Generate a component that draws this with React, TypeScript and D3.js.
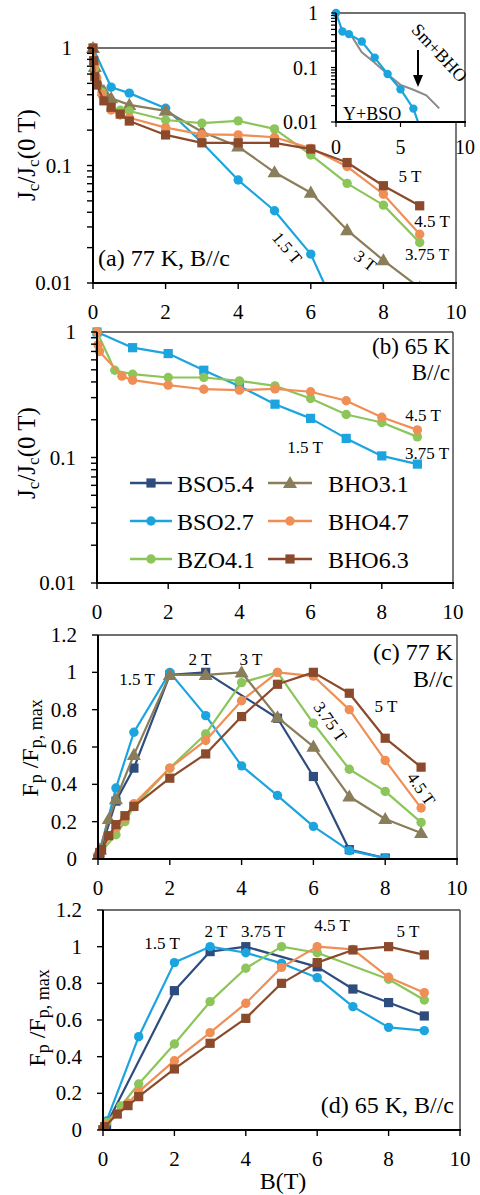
import React from 'react';
import * as d3 from 'd3';

const FONT = '"Liberation Serif", "Times New Roman", Times, serif';
const W = 480;
const H = 1195;

// series styles
const seriesNames = ['BSO5.4', 'BSO2.7', 'BZO4.1', 'BHO3.1', 'BHO4.7', 'BHO6.3'];
const seriesColors = ['#2E4C7E', '#1CA4DE', '#8CC55A', '#8A7D5A', '#EF8F56', '#8A4A2B'];
const seriesShapes = ['square', 'circle', 'circle', 'triangle', 'circle', 'square'];

// ticks
const fieldTicks = [0, 2, 4, 6, 8, 10];
const logTicks = [1, 0.1, 0.01];
const logTickLabels = ['1', '0.1', '0.01'];
const fpTicks = [0, 0.2, 0.4, 0.6, 0.8, 1, 1.2];
const fpTickLabels = ['0', '0.2', '0.4', '0.6', '0.8', '1', '1.2'];
const insetFieldTicks = [0, 5, 10];

// (a) 77 K, Jc/Jc(0 T)
const a_B_bso27 = [0, 0.5, 1, 2, 3, 4, 5, 6, 7];
const a_J_bso27 = [1, 0.464, 0.413, 0.307, 0.157, 0.0752, 0.0412, 0.0176, 0.0037];
const a_B_bho31 = [0, 0.05, 0.3, 0.5, 1, 2, 3, 4, 5, 6, 7, 8, 9];
const a_J_bho31 = [1, 0.69, 0.43, 0.373, 0.328, 0.292, 0.194, 0.145, 0.0875, 0.0587, 0.0282, 0.0156, 0.0091];
const a_B_bzo41 = [0, 0.05, 0.1, 0.25, 0.5, 0.75, 1, 2, 3, 4, 5, 6, 7, 8, 9];
const a_J_bzo41 = [1, 0.68, 0.55, 0.42, 0.3, 0.295, 0.291, 0.244, 0.229, 0.24, 0.205, 0.123, 0.0705, 0.046, 0.0221];
const a_B_bho47 = [0, 0.05, 0.1, 0.25, 0.5, 0.75, 1, 2, 3, 4, 5, 6, 7, 8, 9];
const a_J_bho47 = [1, 0.72, 0.56, 0.4, 0.297, 0.269, 0.255, 0.21, 0.184, 0.182, 0.174, 0.14, 0.098, 0.057, 0.026];
const a_B_bho63 = [0, 0.02, 0.05, 0.1, 0.3, 0.5, 0.75, 1, 2, 3, 4, 5, 6, 7, 8, 9];
const a_J_bho63 = [1, 0.78, 0.57, 0.484, 0.355, 0.313, 0.274, 0.239, 0.182, 0.156, 0.156, 0.156, 0.138, 0.106, 0.0673, 0.0454];

// inset: Y+BSO vs Sm+BHO
const inset_B_ybso = [0, 0.5, 1, 2, 3, 4, 5, 6, 7];
const inset_J_ybso = [1, 0.459, 0.41, 0.3, 0.152, 0.076, 0.04, 0.0176, 0.0037];
const inset_B_smbho = [1.2, 2, 3, 4, 5, 6, 7, 8];
const inset_J_smbho = [0.38, 0.19, 0.122, 0.075, 0.048, 0.039, 0.031, 0.0178];

// (b) 65 K, Jc/Jc(0 T)
const b_B_bso27 = [0, 1, 2, 3, 4, 5, 6, 7, 8, 9];
const b_J_bso27 = [1, 0.75, 0.673, 0.496, 0.37, 0.266, 0.205, 0.142, 0.103, 0.0886];
const b_B_bzo41 = [0, 0.5, 1, 2, 3, 4, 5, 6, 7, 8, 9];
const b_J_bzo41 = [1, 0.496, 0.461, 0.434, 0.434, 0.408, 0.372, 0.295, 0.22, 0.19, 0.146];
const b_B_bho47 = [0, 0.03, 0.07, 0.7, 1, 2, 3, 4, 5, 6, 7, 8, 9];
const b_J_bho47 = [1, 0.79, 0.7, 0.445, 0.413, 0.377, 0.35, 0.344, 0.352, 0.334, 0.283, 0.209, 0.166];

// (c) 77 K, Fp/Fp,max
const c_B_bso54 = [0, 0.05, 0.5, 1, 2, 3, 5, 6, 7, 8];
const c_F_bso54 = [0, 0.03, 0.31, 0.487, 0.986, 1.0, 0.754, 0.442, 0.05, 0.005];
const c_B_bso27 = [0, 0.05, 0.5, 1, 2, 3, 4, 5, 6, 7, 8];
const c_F_bso27 = [0, 0.04, 0.38, 0.679, 1.0, 0.768, 0.499, 0.34, 0.175, 0.045, 0.005];
const c_B_bzo41 = [0, 0.05, 0.5, 0.75, 1, 2, 3, 4, 5, 6, 7, 8, 9];
const c_F_bzo41 = [0, 0.03, 0.13, 0.2, 0.28, 0.487, 0.67, 0.945, 1.0, 0.727, 0.481, 0.362, 0.196];
const c_B_bho47 = [0, 0.05, 0.5, 0.75, 1, 2, 3, 4, 5, 6, 7, 8, 9];
const c_F_bho47 = [0, 0.035, 0.166, 0.22, 0.296, 0.487, 0.635, 0.848, 1.0, 0.98, 0.8, 0.528, 0.273];
const c_B_bho31 = [0, 0.05, 0.3, 0.5, 1, 2, 3, 4, 5, 6, 7, 8, 9];
const c_F_bho31 = [0, 0.05, 0.214, 0.32, 0.558, 0.986, 0.986, 1.0, 0.759, 0.602, 0.335, 0.214, 0.139];
const c_B_bho63 = [0, 0.05, 0.1, 0.3, 0.5, 0.75, 1, 2, 3, 4, 5, 6, 7, 8, 9];
const c_F_bho63 = [0, 0.035, 0.05, 0.125, 0.184, 0.232, 0.282, 0.433, 0.563, 0.763, 0.936, 1.0, 0.888, 0.647, 0.492];

// (d) 65 K, Fp/Fp,max
const d_B_bso54 = [0, 0.1, 2, 3, 4, 6, 7, 8, 9];
const d_F_bso54 = [0, 0.03, 0.76, 0.973, 1.0, 0.89, 0.769, 0.695, 0.622];
const d_B_bso27 = [0, 0.1, 1, 2, 3, 4, 5, 6, 7, 8, 9];
const d_F_bso27 = [0, 0.05, 0.509, 0.913, 1.0, 0.967, 0.909, 0.831, 0.673, 0.56, 0.542];
const d_B_bzo41 = [0, 0.1, 0.5, 1, 2, 3, 4, 5, 6, 8, 9];
const d_F_bzo41 = [0, 0.04, 0.131, 0.251, 0.469, 0.7, 0.882, 1.0, 0.967, 0.822, 0.709];
const d_B_bho47 = [0, 0.05, 0.7, 1, 2, 3, 4, 5, 6, 7, 8, 9];
const d_F_bho47 = [0, 0.027, 0.146, 0.209, 0.378, 0.531, 0.691, 0.887, 1.0, 0.985, 0.833, 0.749];
const d_B_bho63 = [0, 0.05, 0.4, 0.7, 1, 2, 3, 4, 5, 6, 7, 8, 9];
const d_F_bho63 = [0, 0.018, 0.087, 0.133, 0.182, 0.333, 0.473, 0.609, 0.8, 0.913, 0.982, 1.0, 0.955];

type Box = { l: number; r: number; t: number; b: number };
type Line = { name: string; B: number[]; V: number[]; shape?: string };

const boxA: Box = { l: 93, r: 456, t: 48, b: 283 };
const boxB: Box = { l: 97, r: 453, t: 332, b: 583 };
const boxC: Box = { l: 98, r: 457, t: 635, b: 859 };
const boxD: Box = { l: 103, r: 460, t: 910, b: 1130 };
const boxInset: Box = { l: 336, r: 465, t: 13, b: 122 };

const panelA: Line[] = [
  { name: 'BSO2.7', B: a_B_bso27, V: a_J_bso27 },
  { name: 'BHO3.1', B: a_B_bho31, V: a_J_bho31 },
  { name: 'BZO4.1', B: a_B_bzo41, V: a_J_bzo41 },
  { name: 'BHO4.7', B: a_B_bho47, V: a_J_bho47 },
  { name: 'BHO6.3', B: a_B_bho63, V: a_J_bho63 },
];
const panelB: Line[] = [
  { name: 'BSO2.7', B: b_B_bso27, V: b_J_bso27, shape: 'square' },
  { name: 'BZO4.1', B: b_B_bzo41, V: b_J_bzo41 },
  { name: 'BHO4.7', B: b_B_bho47, V: b_J_bho47 },
];
const panelC: Line[] = [
  { name: 'BSO5.4', B: c_B_bso54, V: c_F_bso54 },
  { name: 'BSO2.7', B: c_B_bso27, V: c_F_bso27 },
  { name: 'BZO4.1', B: c_B_bzo41, V: c_F_bzo41 },
  { name: 'BHO4.7', B: c_B_bho47, V: c_F_bho47 },
  { name: 'BHO3.1', B: c_B_bho31, V: c_F_bho31 },
  { name: 'BHO6.3', B: c_B_bho63, V: c_F_bho63 },
];
const panelD: Line[] = [
  { name: 'BSO5.4', B: d_B_bso54, V: d_F_bso54 },
  { name: 'BSO2.7', B: d_B_bso27, V: d_F_bso27 },
  { name: 'BZO4.1', B: d_B_bzo41, V: d_F_bzo41 },
  { name: 'BHO4.7', B: d_B_bho47, V: d_F_bho47 },
  { name: 'BHO6.3', B: d_B_bho63, V: d_F_bho63 },
];

const colorOf = (name: string) => seriesColors[seriesNames.indexOf(name)];
const shapeOf = (name: string) => seriesShapes[seriesNames.indexOf(name)];

function Marker({ shape, cx, cy, color }: { shape: string; cx: number; cy: number; color: string }) {
  if (shape === 'square') return <rect x={cx - 4.6} y={cy - 4.6} width={9.2} height={9.2} fill={color} />;
  if (shape === 'triangle')
    return <path d={d3.symbol(d3.symbolTriangle, 85)() || ''} transform={`translate(${cx},${cy + 1})`} fill={color} />;
  return <circle cx={cx} cy={cy} r={4.7} fill={color} />;
}

function Series({ lines, x, y }: { lines: Line[]; x: any; y: any }) {
  const gen = d3.line<[number, number]>().x((d) => x(d[0])).y((d) => y(d[1]));
  return (
    <g>
      {lines.map((s) => {
        const pts = d3.zip(s.B, s.V) as [number, number][];
        const color = colorOf(s.name);
        const shape = s.shape || shapeOf(s.name);
        return (
          <g key={s.name}>
            <path d={gen(pts) || ''} fill="none" stroke={color} strokeWidth={2.2} strokeLinejoin="round" />
            {pts.map((p, i) => (
              <Marker key={i} shape={shape} cx={x(p[0])} cy={y(p[1])} color={color} />
            ))}
          </g>
        );
      })}
    </g>
  );
}

function Panel({ box, log, lines, id }: { box: Box; log: boolean; lines: Line[]; id: string }) {
  const x = d3.scaleLinear().domain([0, 10]).range([box.l, box.r]);
  const y: any = log
    ? d3.scaleLog().domain([0.01, 1]).range([box.b, box.t])
    : d3.scaleLinear().domain([0, 1.2]).range([box.b, box.t]);
  const tickMarks: number[] = log ? y.ticks() : fpTicks;
  const labelVals = log ? logTicks : fpTicks;
  const labelTxt = log ? logTickLabels : fpTickLabels;
  return (
    <g>
      <defs>
        <clipPath id={`clip-${id}`}>
          <rect x={box.l - 8} y={box.t - 8} width={box.r - box.l + 16} height={box.b - box.t + 8} />
        </clipPath>
      </defs>
      <line x1={box.l} x2={box.r} y1={box.t} y2={box.t} stroke="#404040" strokeWidth={1.4} />
      <line x1={box.r} x2={box.r} y1={box.t} y2={box.b} stroke="#404040" strokeWidth={1.4} />
      <g clipPath={`url(#clip-${id})`}>
        <Series lines={lines} x={x} y={y} />
      </g>
      <line x1={box.l} x2={box.l} y1={box.t} y2={box.b + 1} stroke="#000" strokeWidth={2} />
      <line x1={box.l - 1} x2={box.r + 1} y1={box.b} y2={box.b} stroke="#000" strokeWidth={2} />
      {tickMarks.map((t) => (
        <line key={t} x1={box.l - 6} x2={box.l} y1={y(t)} y2={y(t)} stroke="#000" strokeWidth={1.4} />
      ))}
      {labelVals.map((t, i) => (
        <text key={t} x={box.l - 21} y={y(t) + 7} textAnchor="end" fontSize={21}>
          {labelTxt[i]}
        </text>
      ))}
      {fieldTicks.map((t) => (
        <g key={t}>
          <line x1={x(t)} x2={x(t)} y1={box.b} y2={box.b + 6} stroke="#000" strokeWidth={1.4} />
          <text x={x(t)} y={box.b + 36} textAnchor="middle" fontSize={21}>
            {t}
          </text>
        </g>
      ))}
    </g>
  );
}

function Inset() {
  const box = boxInset;
  const x = d3.scaleLinear().domain([0, 10]).range([box.l, box.r]);
  const y = d3.scaleLog().domain([0.01, 1]).range([box.b, box.t]);
  const gen = d3.line<[number, number]>().x((d) => x(d[0])).y((d) => y(d[1]));
  const blue = d3.zip(inset_B_ybso, inset_J_ybso) as [number, number][];
  const gray = d3.zip(inset_B_smbho, inset_J_smbho) as [number, number][];
  return (
    <g>
      <defs>
        <clipPath id="clip-inset">
          <rect x={box.l - 6} y={box.t - 6} width={box.r - box.l + 12} height={box.b - box.t + 6} />
        </clipPath>
      </defs>
      <rect x={box.l} y={box.t} width={box.r - box.l} height={box.b - box.t} fill="#fff" />
      <line x1={box.l} x2={box.r} y1={box.t} y2={box.t} stroke="#404040" strokeWidth={1.4} />
      <line x1={box.r} x2={box.r} y1={box.t} y2={box.b} stroke="#404040" strokeWidth={1.4} />
      <g clipPath="url(#clip-inset)">
        <path d={gen(gray) || ''} fill="none" stroke="#8a8a8a" strokeWidth={2} />
        <path d={gen(blue) || ''} fill="none" stroke={colorOf('BSO2.7')} strokeWidth={2.2} />
        {blue.map((p, i) => (
          <circle key={i} cx={x(p[0])} cy={y(p[1])} r={4.2} fill={colorOf('BSO2.7')} />
        ))}
      </g>
      <line x1={box.l} x2={box.l} y1={box.t} y2={box.b + 1} stroke="#000" strokeWidth={2} />
      <line x1={box.l - 1} x2={box.r + 1} y1={box.b} y2={box.b} stroke="#000" strokeWidth={2} />
      {y.ticks().map((t) => (
        <line key={t} x1={box.l - 5} x2={box.l} y1={y(t)} y2={y(t)} stroke="#000" strokeWidth={1.2} />
      ))}
      {logTicks.map((t, i) => (
        <text key={t} x={box.l - 18} y={y(t) + 7} textAnchor="end" fontSize={20}>
          {logTickLabels[i]}
        </text>
      ))}
      {insetFieldTicks.map((t) => (
        <g key={t}>
          <line x1={x(t)} x2={x(t)} y1={box.b} y2={box.b + 5} stroke="#000" strokeWidth={1.2} />
          <text x={x(t)} y={box.b + 32} textAnchor="middle" fontSize={20}>
            {t}
          </text>
        </g>
      ))}
      <text x={343} y={120} fontSize={18}>Y+BSO</text>
      <text transform="translate(435,57) rotate(47)" textAnchor="middle" fontSize={18}>Sm+BHO</text>
      <line x1={418} x2={418} y1={50} y2={76} stroke="#000" strokeWidth={2} />
      <path d="M413,75 L423,75 L418,87 Z" fill="#000" />
    </g>
  );
}

function Legend() {
  const rows = [483, 521, 559];
  const cols = [
    { x1: 130, x2: 172, mx: 151, tx: 177 },
    { x1: 268, x2: 312, mx: 290, tx: 328 },
  ];
  return (
    <g>
      {seriesNames.map((n, i) => {
        const c = cols[Math.floor(i / 3)];
        const yy = rows[i % 3];
        const color = colorOf(n);
        return (
          <g key={n}>
            <line x1={c.x1} x2={c.x2} y1={yy} y2={yy} stroke={color} strokeWidth={2.4} />
            <Marker shape={shapeOf(n)} cx={c.mx} cy={yy} color={color} />
            <text x={c.tx} y={yy + 9} fontSize={24}>
              {n}
            </text>
          </g>
        );
      })}
    </g>
  );
}

function JcTitle({ cx, cy }: { cx: number; cy: number }) {
  return (
    <text transform={`translate(${cx},${cy}) rotate(-90)`} textAnchor="middle" fontSize={25}>
      J<tspan fontSize={17} dy={4}>c</tspan>
      <tspan dy={-4}>/J</tspan>
      <tspan fontSize={17} dy={4}>c</tspan>
      <tspan dy={-4}>(0 T)</tspan>
    </text>
  );
}

function FpTitle({ cx, cy }: { cx: number; cy: number }) {
  return (
    <text transform={`translate(${cx},${cy}) rotate(-90)`} textAnchor="middle" fontSize={24}>
      F<tspan fontSize={18} dy={4}>p</tspan>
      <tspan dy={-4}> /F</tspan>
      <tspan fontSize={18} dy={4}>p, max</tspan>
    </text>
  );
}

function Note({ x, y, t, rot = 0, size = 17, anchor = 'middle' }: { x: number; y: number; t: string; rot?: number; size?: number; anchor?: string }) {
  return (
    <text transform={`translate(${x},${y}) rotate(${rot})`} textAnchor={anchor} dominantBaseline="central" fontSize={size}>
      {t}
    </text>
  );
}

export default function App() {
  return (
    <svg
      width={W}
      height={H}
      viewBox={`0 0 ${W} ${H}`}
      style={{ position: 'absolute', left: 0, top: 0 }}
      fontFamily={FONT}
    >
      <rect width={W} height={H} fill="#fff" />

      {/* (a) */}
      <Panel box={boxA} log={true} lines={panelA} id="a" />
      <Inset />
      <JcTitle cx={35} cy={155} />
      <text x={98} y={266} fontSize={24}>(a) 77 K, B//c</text>
      <Note x={410} y={176} t="5 T" />
      <Note x={432} y={221} t="4.5 T" />
      <Note x={427} y={254} t="3.75 T" />
      <Note x={287} y={248} t="1.5 T" rot={50} />
      <Note x={365} y={261} t="3 T" rot={38} />

      {/* (b) */}
      <Panel box={boxB} log={true} lines={panelB} id="b" />
      <JcTitle cx={35} cy={453} />
      <text x={450} y={354} textAnchor="end" fontSize={23}>(b) 65 K</text>
      <text x={450} y={380} textAnchor="end" fontSize={23}>B//c</text>
      <Note x={423} y={415} t="4.5 T" />
      <Note x={305} y={447} t="1.5 T" />
      <Note x={427} y={453} t="3.75 T" />
      <Legend />

      {/* (c) */}
      <Panel box={boxC} log={false} lines={panelC} id="c" />
      <FpTitle cx={38} cy={748} />
      <text x={453} y={660} textAnchor="end" fontSize={24}>(c) 77 K</text>
      <text x={453} y={687} textAnchor="end" fontSize={24}>B//c</text>
      <Note x={137} y={679} t="1.5 T" />
      <Note x={200} y={659} t="2 T" />
      <Note x={251} y={659} t="3 T" />
      <Note x={386} y={706} t="5 T" />
      <Note x={330} y={722} t="3.75 T" rot={55} />
      <Note x={421} y={789} t="4.5 T" rot={55} />

      {/* (d) */}
      <Panel box={boxD} log={false} lines={panelD} id="d" />
      <FpTitle cx={45} cy={1018} />
      <text x={454} y={1113} textAnchor="end" fontSize={24}>(d) 65 K, B//c</text>
      <Note x={162} y={943} t="1.5 T" />
      <Note x={216} y={931} t="2 T" />
      <Note x={263} y={931} t="3.75 T" />
      <Note x={332} y={925} t="4.5 T" />
      <Note x={408} y={931} t="5 T" />
      <text x={283} y={1189} textAnchor="middle" fontSize={24}>B(T)</text>
    </svg>
  );
}
